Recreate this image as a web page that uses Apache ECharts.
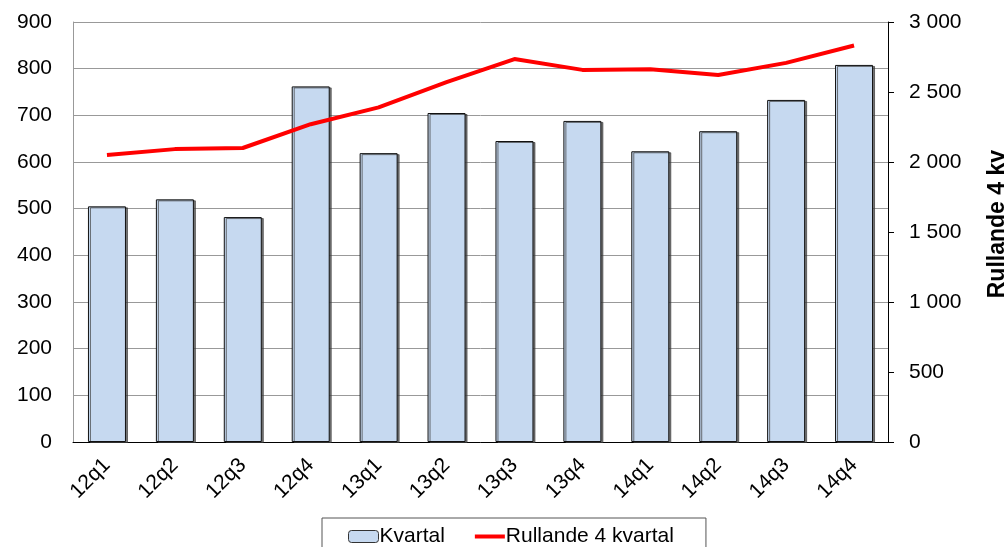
<!DOCTYPE html>
<html>
<head>
<meta charset="utf-8">
<script src="https://cdn.jsdelivr.net/npm/echarts@6/dist/echarts.min.js"></script>
<style>
  html, body { margin: 0; padding: 0; background: #fff; }
  #chart { width: 1004px; height: 547px; }
</style>
</head>
<body>
<div id="chart"></div>
<script>
// quarters
const categories = ['12q1', '12q2', '12q3', '12q4', '13q1', '13q2', '13q3', '13q4', '14q1', '14q2', '14q3', '14q4']
// per quarter (left axis)
const kvartal = [505, 520, 482, 762, 619, 705, 645, 688, 623, 666, 733, 808]
// rolling four quarters (right axis)
const rullande = [2050, 2092, 2100, 2270, 2390, 2570, 2735, 2658, 2663, 2622, 2708, 2832]

const fontFamily = '"Liberation Sans", Arial, sans-serif'

function spaced (v) {
  return String(v).replace(/\B(?=(\d{3})+(?!\d))/g, ' ')
}

const myChart = echarts.init(document.getElementById('chart'))
const opt = {
  animation: false,
  textStyle: { fontFamily: fontFamily },
  grid: {
    left: 73,
    right: 116,
    top: 22,
    bottom: 105
  },
  legend: {
    bottom: -18,
    left: 322,
    padding: [8, 32, 18, 26],
    borderColor: '#555',
    borderWidth: 1,
    itemGap: 30,
    itemWidth: 30,
    itemHeight: 12,
    textStyle: { fontSize: 21, color: '#000', fontFamily: fontFamily, padding: [0, 0, 0, -4] },
    data: [
      { name: 'Kvartal', itemStyle: { color: '#c6d9f0', borderColor: '#333', borderWidth: 1 } },
      { name: 'Rullande 4 kvartal', icon: 'path://M0,0 L30,0 L30,4 L0,4 Z', itemStyle: { color: '#ff0000' } }
    ]
  },
  xAxis: {
    type: 'category',
    data: categories,
    axisLine: { lineStyle: { color: '#000', width: 1 } },
    axisTick: { show: false },
    axisLabel: {
      interval: 0,
      rotate: 45,
      margin: 20,
      fontSize: 21,
      color: '#000'
    }
  },
  yAxis: [
    {
      type: 'value',
      min: 0,
      max: 900,
      interval: 100,
      axisLine: { show: true, lineStyle: { color: '#999' } },
      axisTick: { show: false },
      splitLine: { show: true, lineStyle: { color: '#999', width: 1 } },
      axisLabel: { fontSize: 21, color: '#000', margin: 21 }
    },
    {
      type: 'value',
      min: 0,
      max: 3000,
      interval: 500,
      position: 'right',
      axisLine: { show: true, lineStyle: { color: '#000' } },
      axisTick: { show: true, length: 6, lineStyle: { color: '#000' } },
      splitLine: { show: false },
      axisLabel: {
        fontSize: 21,
        color: '#000',
        margin: 21,
        formatter: spaced
      }
    }
  ],
  graphic: [
    {
      type: 'text',
      left: 986,
      top: 150,
      rotation: Math.PI / 2,
      style: {
        text: 'Rullande 4 kv',
        fontSize: 23,
        fontWeight: 'bold',
        fontFamily: fontFamily,
        fill: '#000'
      }
    }
  ],
  series: [
    {
      name: 'Kvartal',
      type: 'bar',
      data: kvartal,
      barWidth: 38,
      itemStyle: {
        color: '#c6d9f0',
        borderColor: '#111',
        borderWidth: 1,
        shadowColor: 'rgba(60,60,60,0.7)',
        shadowOffsetX: 2,
        shadowOffsetY: 1,
        shadowBlur: 0
      }
    },
    {
      name: 'Rullande 4 kvartal',
      type: 'line',
      yAxisIndex: 1,
      data: rullande,
      symbol: 'none',
      lineStyle: { color: '#ff0000', width: 4 },
      itemStyle: { color: '#ff0000' }
    }
  ]
}
myChart.setOption(opt)
window.addEventListener('resize', function () {
  myChart.resize()
})
</script>
</body>
</html>
